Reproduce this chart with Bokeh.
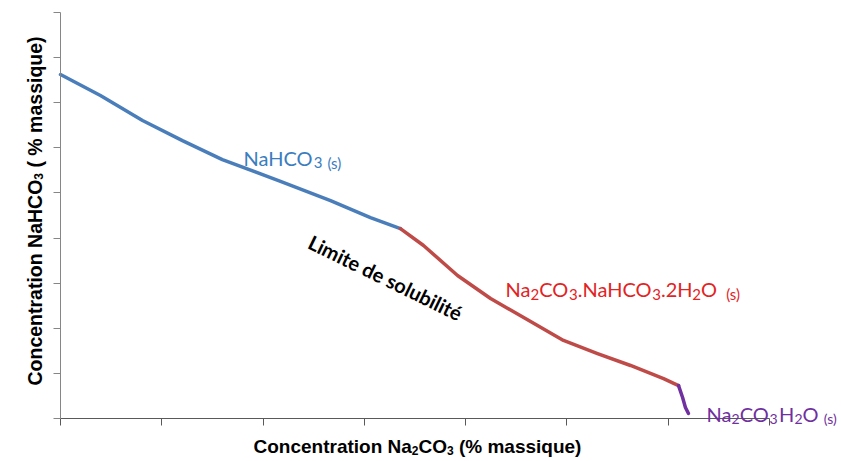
import math
from bokeh.plotting import figure
from bokeh.models import Label, Range1d, FixedTicker
from bokeh.embed import file_html
from bokeh.resources import INLINE

# ---- data ----
x_ticks = [0, 5, 10, 15, 20, 25, 30, 35]
y_ticks = [0, 2, 4, 6, 8, 10, 12, 14, 16, 18]

nahco3_x = [0.0, 1.97, 4.05, 6.02, 7.99, 10.86, 13.33, 15.30, 16.78]
nahco3_y = [15.25, 14.32, 13.21, 12.32, 11.48, 10.51, 9.66, 8.91, 8.42]

trona_x = [16.78, 17.92, 19.60, 21.23, 22.95, 24.83, 26.51, 28.14, 29.77, 30.51]
trona_y = [8.42, 7.67, 6.34, 5.32, 4.43, 3.46, 2.88, 2.35, 1.77, 1.46]

mono_x = [30.51, 30.71, 30.85, 31.00]
mono_y = [1.46, 0.93, 0.49, 0.22]

X_MIN, X_MAX = 0, 35
Y_MIN, Y_MAX = 0, 18

W, H = 841, 461
# pixel geometry of the axes box on the canvas (used to set the view and place notes)
FX0, FX1, FY0, FY1 = 60, 769, 418, 12
sx = (FX1 - FX0) / (X_MAX - X_MIN)
sy = (FY0 - FY1) / (Y_MAX - Y_MIN)

p = figure(width=W, height=H, output_backend="svg", toolbar_location=None,
           x_range=Range1d(X_MIN - FX0 / sx, X_MIN + (W - FX0) / sx),
           y_range=Range1d(Y_MIN - (H - FY0) / sy, Y_MIN + FY0 / sy),
           min_border=0, min_border_left=0, min_border_right=0,
           min_border_top=0, min_border_bottom=0)
p.outline_line_color = None
p.xgrid.grid_line_color = None
p.ygrid.grid_line_color = None
p.background_fill_color = "white"
p.border_fill_color = "white"

for ax, ticks, bnds in ((p.xaxis, x_ticks, (X_MIN, X_MAX)), (p.yaxis, y_ticks, (Y_MIN, Y_MAX))):
    ax.ticker = FixedTicker(ticks=ticks)
    ax.fixed_location = 0
    ax.bounds = bnds
    ax.axis_line_color = "#868686"
    ax.major_tick_line_color = "#868686"
    ax.major_tick_out = 7
    ax.major_tick_in = 0
    ax.minor_tick_line_color = None
    ax.major_label_overrides = {t: "" for t in ticks}
p.xaxis.axis_line_color = "#595959"
p.xaxis.major_tick_line_color = "#595959"

p.line(nahco3_x, nahco3_y, line_width=3.5, line_color="#4a7ebb", line_cap="round", line_join="round")
p.line(trona_x, trona_y, line_width=3.5, line_color="#be4b48", line_cap="round", line_join="round")
p.line(mono_x, mono_y, line_width=3.5, line_color="#7030a0", line_cap="round", line_join="round")


def to_data(px, py):
    return X_MIN + (px - FX0) / sx, Y_MIN + (FY0 - py) / sy


LATO = {' ': 0.193, '.': 0.218, '(': 0.298, ')': 0.298, 'a': 0.497, 's': 0.404,
        'N': 0.754, 'H': 0.768, 'C': 0.682, 'O': 0.808, '2': 0.58, '3': 0.58}
ARIALB = {' ': 0.278, '(': 0.333, ')': 0.333, '%': 0.889, 'C': 0.722, 'o': 0.611,
          'n': 0.611, 'c': 0.556, 'e': 0.556, 't': 0.333, 'r': 0.389, 'a': 0.556,
          'i': 0.278, 'N': 0.722, 'H': 0.722, 'O': 0.778, 'm': 0.889, 's': 0.556,
          'q': 0.611, 'u': 0.611, '2': 0.556, '3': 0.556}


def rich(parts, px, py, size, sub_size, drop, color, font, table, style="normal", vertical=False):
    pos = 0.0
    for part in parts:
        txt, sub = part[0], part[1]
        pos += part[2] if len(part) > 2 else 0
        fs = sub_size if sub else size
        d = drop if sub else 0
        lead = len(txt) - len(txt.lstrip(" "))
        pos += lead * table[' '] * fs
        txt = txt.lstrip(" ")
        if vertical:
            x, y = to_data(px + d, py - pos)
            ang = math.pi / 2
        else:
            x, y = to_data(px + pos, py + d)
            ang = 0
        p.add_layout(Label(x=x, y=y, text=txt, text_font=font, text_font_size=f"{fs}px",
                           text_color=color, text_font_style=style, angle=ang,
                           text_align="left", text_baseline="alphabetic"))
        pos += sum(table.get(c, 0.55) for c in txt) * fs


rich([("NaHCO", 0), ("3", 1), ("(s)", 1, 5)], 243, 157, 20, 15, 5,
     "#3a7dc0", "Lato", LATO)
rich([("Na", 0), ("2", 1), ("CO", 0), ("3", 1), (".NaHCO", 0), ("3", 1),
      (".2H", 0), ("2", 1), ("O", 0), ("(s)", 1, 9)], 505, 288.5, 20, 15, 5,
     "#e3231f", "Lato", LATO)
rich([("Na", 0), ("2", 1), ("CO", 0), ("3", 1), ("H", 0, 1.5), ("2", 1), ("O", 0),
      ("(s)", 1, 5)], 706, 413, 20, 14, 5, "#7030a0", "Lato", LATO)

lx, ly = to_data(385, 277)
p.add_layout(Label(x=lx, y=ly, text="Limite de solubilité", text_font="Lato",
                   text_font_size="20px", text_font_style="bold", text_color="black",
                   angle=math.radians(-26), text_align="center", text_baseline="middle"))

# axis titles
rich([("Concentration Na", 0), ("2", 1), ("CO", 0), ("3", 1), (" (% massique)", 0)],
     253, 446, 19, 12, 4, "black", "Liberation Sans", ARIALB, style="bold")
rich([("Concentration NaHCO", 0), ("3", 1), (" ( % massique)", 0)],
     34, 385, 19.5, 12, 4, "black", "Liberation Sans", ARIALB, style="bold", vertical=True)

open("out.html", "w").write(file_html(p, INLINE))
